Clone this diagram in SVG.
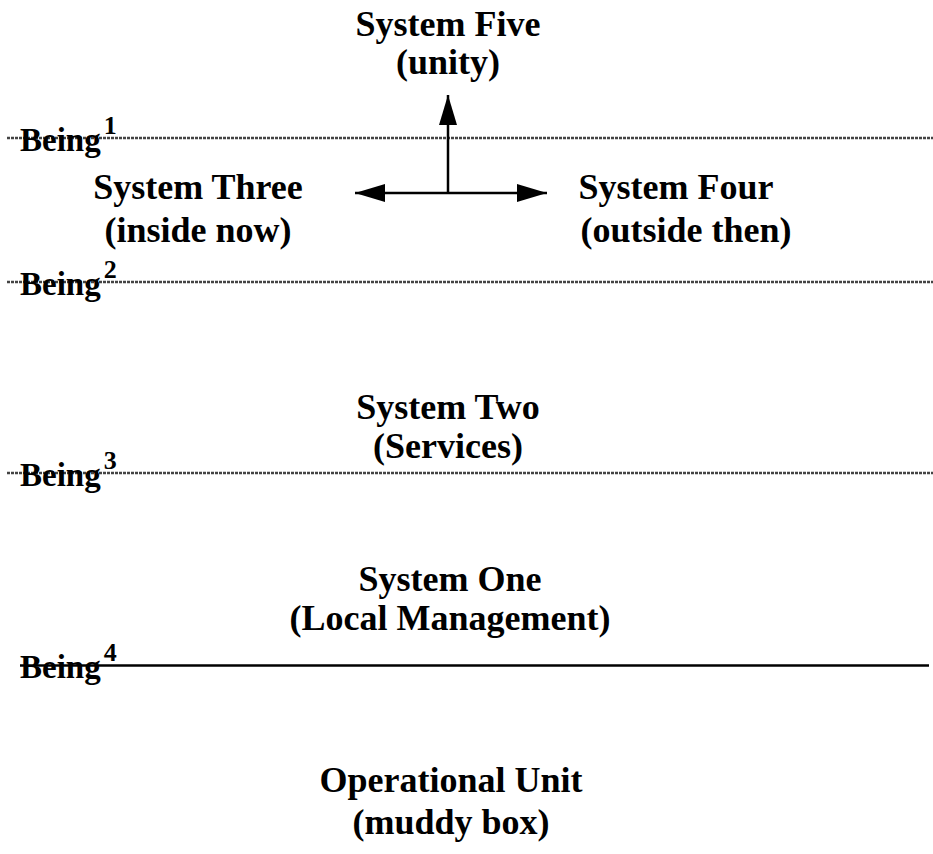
<svg xmlns="http://www.w3.org/2000/svg" width="933" height="854" viewBox="0 0 933 854">
<defs>
<style>
.t{font-family:"Liberation Serif","Times New Roman",serif;font-weight:bold;font-size:36px;fill:#000;text-anchor:middle}
.b{font-family:"Liberation Serif","Times New Roman",serif;font-weight:bold;font-size:33px;fill:#000}
.sup{font-size:26px}
.hl{stroke:#444;stroke-width:2.5;stroke-dasharray:3 1;fill:none}
.sl{stroke:#000;stroke-width:2.5;fill:none}
.ar{stroke:#000;stroke-width:2.5;fill:none}
</style>
<marker id="ah" viewBox="0 0 30 18" refX="30" refY="9" markerWidth="30" markerHeight="18" markerUnits="userSpaceOnUse" orient="auto">
<path d="M0,0 L30,9 L0,18 Z" fill="#000"/>
</marker>
</defs>
<g id="levels">
<line class="hl" x1="7" y1="138" x2="933" y2="138"/>
<line class="hl" x1="7" y1="282" x2="933" y2="282"/>
<line class="hl" x1="7" y1="473" x2="933" y2="473"/>
<line class="sl" x1="20" y1="665.5" x2="929" y2="665.5"/>
</g>
<g id="being-labels">
<text class="b" x="20" y="151">Being<tspan class="sup" dx="3" dy="-17">1</tspan></text>
<text class="b" x="20" y="295">Being<tspan class="sup" dx="3" dy="-17">2</tspan></text>
<text class="b" x="20" y="486">Being<tspan class="sup" dx="3" dy="-17">3</tspan></text>
<text class="b" x="20" y="678">Being<tspan class="sup" dx="3" dy="-17">4</tspan></text>
</g>
<g id="system-five"><text class="t" x="448" y="36">System Five</text><text class="t" x="448" y="74">(unity)</text></g>
<g id="system-three"><text class="t" x="198" y="199">System Three</text><text class="t" x="198" y="242">(inside now)</text></g>
<g id="system-four"><text class="t" x="676" y="199">System Four</text><text class="t" x="686" y="242">(outside then)</text></g>
<g id="system-two"><text class="t" x="448" y="419">System Two</text><text class="t" x="448" y="458">(Services)</text></g>
<g id="system-one"><text class="t" x="450" y="591">System One</text><text class="t" x="450" y="630">(Local Management)</text></g>
<g id="operational-unit"><text class="t" x="451" y="792">Operational Unit</text><text class="t" x="451" y="834">(muddy box)</text></g>
<g id="connectors">
<line class="ar" x1="448" y1="193" x2="448" y2="95" marker-end="url(#ah)"/>
<line class="ar" x1="448" y1="193" x2="355" y2="193" marker-end="url(#ah)"/>
<line class="ar" x1="448" y1="193" x2="547" y2="193" marker-end="url(#ah)"/>
</g>
</svg>
